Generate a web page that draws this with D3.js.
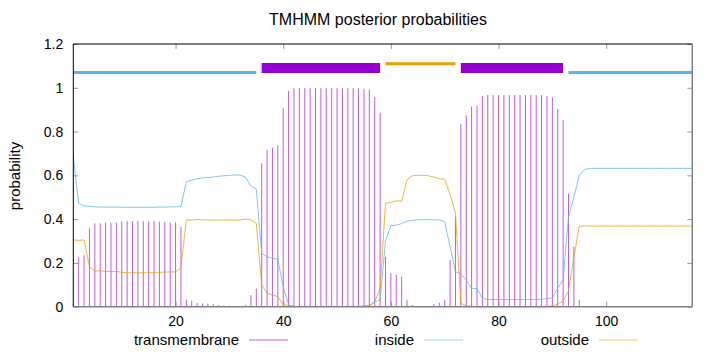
<!DOCTYPE html>
<html>
<head>
<meta charset="utf-8">
<script src="https://cdn.jsdelivr.net/npm/d3@7"></script>
<style>
  body { margin: 0; background: #fff; }
  svg text { font-family: "Liberation Sans", Arial, sans-serif; fill: #000; }
</style>
</head>
<body>
<div id="my_dataviz"></div>
<script>
// ---------------------------  DATA  ---------------------------
// Posterior probabilities per residue (1..116)
var transmembrane = [
    0.010, 0.225, 0.235, 0.358, 0.381, 0.381, 0.384, 0.384, 0.384, 0.390,
    0.391, 0.391, 0.391, 0.391, 0.391, 0.391, 0.388, 0.387, 0.385, 0.385,
    0.365, 0.032, 0.027, 0.017, 0.015, 0.014, 0.012, 0.008, 0.006, 0.004,
    0.003, 0.003, 0.008, 0.053, 0.082, 0.655, 0.716, 0.726, 0.736, 0.908,
    0.985, 0.998, 0.998, 0.998, 0.998, 0.998, 0.998, 0.998, 0.998, 0.998,
    0.998, 0.998, 0.998, 0.998, 0.995, 0.992, 0.957, 0.886, 0.228, 0.152,
    0.145, 0.137, 0.030, 0.008, 0.003, 0.003, 0.003, 0.012, 0.018, 0.030,
    0.213, 0.411, 0.834, 0.874, 0.914, 0.917, 0.962, 0.967, 0.967, 0.967,
    0.967, 0.967, 0.967, 0.967, 0.967, 0.967, 0.967, 0.967, 0.962, 0.956,
    0.903, 0.853, 0.515, 0.274, 0.030, 0.003, 0.001, 0.000, 0.000, 0.000,
    0.000, 0.000, 0.000, 0.000, 0.000, 0.000, 0.000, 0.000, 0.000, 0.000,
    0.000, 0.000, 0.000, 0.000, 0.000, 0.000
];

var inside = [
    0.685, 0.472, 0.460, 0.458, 0.456, 0.455, 0.455, 0.455, 0.455, 0.454,
    0.454, 0.454, 0.454, 0.454, 0.454, 0.454, 0.455, 0.455, 0.456, 0.456,
    0.458, 0.571, 0.578, 0.585, 0.588, 0.590, 0.592, 0.596, 0.598, 0.600,
    0.602, 0.601, 0.592, 0.551, 0.537, 0.244, 0.228, 0.222, 0.216, 0.090,
    0.008, 0.001, 0.001, 0.001, 0.001, 0.001, 0.001, 0.001, 0.001, 0.001,
    0.001, 0.001, 0.001, 0.001, 0.001, 0.002, 0.020, 0.034, 0.300, 0.371,
    0.372, 0.380, 0.391, 0.394, 0.397, 0.397, 0.399, 0.396, 0.397, 0.388,
    0.274, 0.160, 0.151, 0.121, 0.084, 0.083, 0.038, 0.033, 0.033, 0.033,
    0.033, 0.033, 0.033, 0.033, 0.033, 0.033, 0.033, 0.033, 0.038, 0.040,
    0.085, 0.122, 0.411, 0.500, 0.600, 0.627, 0.632, 0.632, 0.632, 0.632,
    0.632, 0.632, 0.632, 0.632, 0.632, 0.632, 0.632, 0.632, 0.632, 0.632,
    0.632, 0.632, 0.632, 0.632, 0.632, 0.632
];

var outside = [
    0.305, 0.303, 0.305, 0.183, 0.163, 0.164, 0.161, 0.161, 0.161, 0.157,
    0.155, 0.155, 0.155, 0.155, 0.155, 0.155, 0.157, 0.158, 0.159, 0.159,
    0.177, 0.397, 0.395, 0.398, 0.397, 0.396, 0.396, 0.396, 0.396, 0.396,
    0.395, 0.396, 0.400, 0.396, 0.381, 0.099, 0.061, 0.053, 0.046, 0.008,
    0.007, 0.001, 0.001, 0.001, 0.001, 0.001, 0.001, 0.001, 0.001, 0.001,
    0.001, 0.001, 0.001, 0.001, 0.004, 0.006, 0.023, 0.080, 0.472, 0.477,
    0.483, 0.483, 0.579, 0.598, 0.600, 0.600, 0.598, 0.592, 0.585, 0.582,
    0.513, 0.429, 0.015, 0.005, 0.002, 0.000, 0.000, 0.000, 0.000, 0.000,
    0.000, 0.000, 0.000, 0.000, 0.000, 0.000, 0.000, 0.000, 0.000, 0.004,
    0.012, 0.025, 0.074, 0.226, 0.366, 0.370, 0.368, 0.368, 0.368, 0.368,
    0.368, 0.368, 0.368, 0.368, 0.368, 0.368, 0.368, 0.368, 0.368, 0.368,
    0.368, 0.368, 0.368, 0.368, 0.368, 0.368
];

// Predicted topology (residue ranges)
var topology = [
    { type: "inside",        start: 1,  end: 35 },
    { type: "transmembrane", start: 36, end: 58 },
    { type: "outside",       start: 59, end: 72 },
    { type: "transmembrane", start: 73, end: 92 },
    { type: "inside",        start: 93, end: 116 }
];

var x_ticks = [20, 40, 60, 80, 100];
var y_ticks = [0, 0.2, 0.4, 0.6, 0.8, 1, 1.2];
var legend_labels = ["transmembrane", "inside", "outside"];

// ---------------------------  LAYOUT  ---------------------------
var outer_width = 720, outer_height = 352;
var margins = { left: 73.3, right: 27.7, top: 44, bottom: 45.3 };
var width = outer_width - margins.left - margins.right;
var height = outer_height - margins.top - margins.bottom;

var colors = { transmembrane: "#9400d3", inside: "#56b4e9", outside: "#e69f00" };
var impulse_color = "#bb5ce4";

var x_scale = d3.scaleLinear().domain([1, inside.length]).range([0, width]);
var y_scale = d3.scaleLinear().domain([0, 1.2]).range([height, 0]);

var svg = d3.select("#my_dataviz").append("svg")
    .attr("width", outer_width)
    .attr("height", outer_height);

var chart = svg.append("g")
    .attr("transform", `translate(${margins.left},${margins.top})`);

// Axes: gnuplot style, ticks pointing inward, mirrored on the other side
var fmt = function(d) { return String(+d.toFixed(1)); };

var y_axis = chart.append("g")
    .call(d3.axisLeft(y_scale).tickValues(y_ticks).tickFormat(fmt).tickSize(-5).tickPadding(10));
var y_axis_r = chart.append("g")
    .attr("transform", `translate(${width},0)`)
    .call(d3.axisRight(y_scale).tickValues(y_ticks).tickFormat("").tickSize(-5));
var x_axis = chart.append("g")
    .attr("transform", `translate(0,${height})`)
    .call(d3.axisBottom(x_scale).tickValues(x_ticks).tickSize(-5).tickPadding(9));
var x_axis_t = chart.append("g")
    .call(d3.axisTop(x_scale).tickValues(x_ticks).tickFormat("").tickSize(-5));

[y_axis, y_axis_r, x_axis, x_axis_t].forEach(function(a) {
    a.select(".domain").remove();
    a.selectAll(".tick line").attr("stroke", "#999");
    a.selectAll("text").style("font-size", "14px").attr("fill", "#000");
});

// Impulses for the transmembrane probability
chart.append("g").selectAll("line")
    .data(transmembrane)
    .join("line")
    .attr("x1", function(d, i) { return x_scale(i + 1); })
    .attr("x2", function(d, i) { return x_scale(i + 1); })
    .attr("y1", y_scale(0))
    .attr("y2", function(d) { return y_scale(d); })
    .attr("stroke", impulse_color)
    .attr("stroke-width", 1);

// inside / outside curves
var line = d3.line()
    .x(function(d, i) { return x_scale(i + 1); })
    .y(function(d) { return y_scale(d); });

chart.append("path").datum(inside)
    .attr("d", line)
    .attr("fill", "none")
    .attr("stroke", colors.inside)
    .attr("stroke-opacity", 0.75)
    .attr("stroke-width", 1);

chart.append("path").datum(outside)
    .attr("d", line)
    .attr("fill", "none")
    .attr("stroke", colors.outside)
    .attr("stroke-opacity", 0.75)
    .attr("stroke-width", 1);

// Topology bars along the top
var bar_level = { inside: 1.07, transmembrane: 1.09, outside: 1.11 };
var bar_width = { inside: 3, transmembrane: 10, outside: 3 };

chart.append("g").selectAll("line")
    .data(topology)
    .join("line")
    .attr("x1", function(d) { return x_scale(d.start); })
    .attr("x2", function(d) { return x_scale(d.end); })
    .attr("y1", function(d) { return y_scale(bar_level[d.type]); })
    .attr("y2", function(d) { return y_scale(bar_level[d.type]); })
    .attr("stroke", function(d) { return colors[d.type]; })
    .attr("stroke-width", function(d) { return bar_width[d.type]; });

// Border: top/left thin black, bottom/right grey
chart.append("line").attr("x1", 0).attr("x2", width).attr("y1", 0).attr("y2", 0)
    .attr("stroke", "#000").attr("stroke-width", 1);
chart.append("line").attr("x1", 0).attr("x2", 0).attr("y1", 0).attr("y2", height)
    .attr("stroke", "#000").attr("stroke-width", 1);
chart.append("line").attr("x1", 0).attr("x2", width).attr("y1", height).attr("y2", height)
    .attr("stroke", "#808080").attr("stroke-width", 1.5);
chart.append("line").attr("x1", width).attr("x2", width).attr("y1", 0).attr("y2", height)
    .attr("stroke", "#808080").attr("stroke-width", 1.5);

// Title and y label
svg.append("text")
    .attr("x", 378).attr("y", 25)
    .attr("text-anchor", "middle")
    .style("font-size", "16px")
    .text("TMHMM posterior probabilities");

svg.append("text")
    .attr("transform", "translate(20,176) rotate(-90)")
    .attr("text-anchor", "middle")
    .style("font-size", "15px")
    .text("probability");

// Legend: text right-aligned, then line sample
var legend_x = d3.scalePoint().domain(legend_labels).range([249, 599]);
var legend_colors = { transmembrane: impulse_color, inside: "#9fd3f3", outside: "#f2c766" };

var legend = svg.append("g").selectAll("g")
    .data(legend_labels)
    .join("g")
    .attr("transform", function(d) { return `translate(${legend_x(d)},340)`; });

legend.append("text")
    .attr("x", -10).attr("y", 5)
    .attr("text-anchor", "end")
    .style("font-size", "15px")
    .text(function(d) { return d; });

legend.append("line")
    .attr("x1", 0).attr("x2", 39)
    .attr("stroke", function(d) { return legend_colors[d]; })
    .attr("stroke-width", 1);
</script>
</body>
</html>
